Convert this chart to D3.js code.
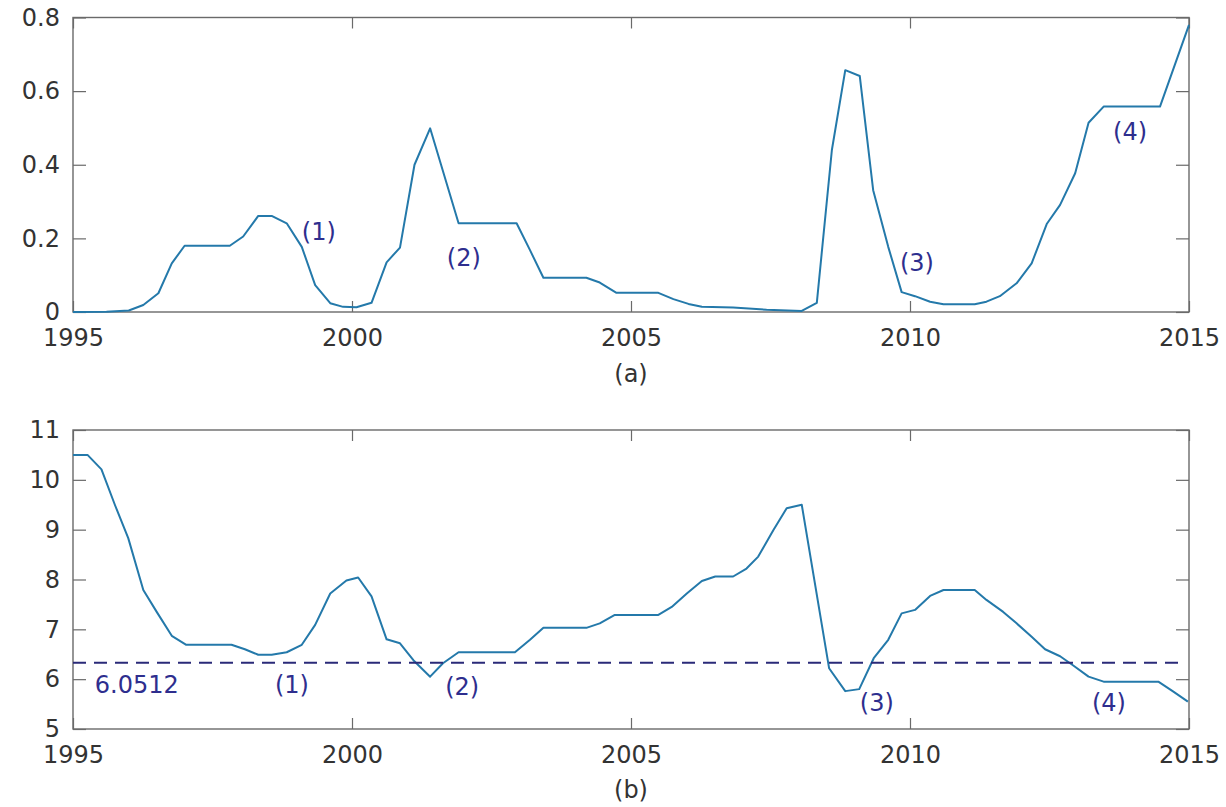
<!DOCTYPE html>
<html>
<head>
<meta charset="utf-8">
<script src="https://cdn.jsdelivr.net/npm/d3@7"></script>
<style>
  body { margin: 0; background: #fff; }
  svg { display: block; }
  text { font-family: "DejaVu Sans", sans-serif; }
</style>
</head>
<body>
<svg id="chart" width="1226" height="807"></svg>
<script>
// ---------- data ----------
const xTicks = [1995, 2000, 2005, 2010, 2015];
const yTicksA = [0, 0.2, 0.4, 0.6, 0.8];
const yTickLabelsA = ["0", "0.2", "0.4", "0.6", "0.8"];
const yTicksB = [5, 6, 7, 8, 9, 10, 11];

const yearsA = [1995.0, 1995.6, 1996.0, 1996.26, 1996.53, 1996.77, 1997.0, 1997.81, 1998.05, 1998.32,
  1998.56, 1998.83, 1999.10, 1999.34, 1999.61, 1999.84, 2000.08, 2000.35, 2000.62, 2000.86,
  2001.12, 2001.40, 2001.91, 2002.95, 2003.19, 2003.43, 2004.20, 2004.44, 2004.74, 2005.49,
  2005.76, 2006.03, 2006.27, 2006.83, 2007.43, 2008.06, 2008.33, 2008.60, 2008.84, 2009.10,
  2009.34, 2009.61, 2009.85, 2010.09, 2010.36, 2010.60, 2011.16, 2011.37, 2011.61, 2011.91,
  2012.18, 2012.45, 2012.69, 2012.96, 2013.20, 2013.47, 2014.48, 2015.0];
const valuesA = [0, 0.001, 0.004, 0.019, 0.051, 0.132, 0.180, 0.180, 0.205, 0.261,
  0.261, 0.241, 0.177, 0.073, 0.024, 0.014, 0.013, 0.025, 0.135, 0.175,
  0.400, 0.499, 0.241, 0.241, 0.168, 0.093, 0.093, 0.080, 0.052, 0.052,
  0.035, 0.022, 0.014, 0.012, 0.006, 0.003, 0.025, 0.440, 0.657, 0.641,
  0.331, 0.177, 0.054, 0.043, 0.028, 0.021, 0.021, 0.028, 0.043, 0.078,
  0.132, 0.239, 0.291, 0.377, 0.514, 0.558, 0.558, 0.780];

const yearsB = [1995.0, 1995.26, 1995.51, 1995.75, 1995.99, 1996.26, 1996.50, 1996.77, 1997.03, 1997.84,
  1998.08, 1998.32, 1998.56, 1998.83, 1999.10, 1999.34, 1999.61, 1999.90, 2000.11, 2000.35,
  2000.62, 2000.86, 2001.10, 2001.40, 2001.63, 2001.91, 2002.92, 2003.19, 2003.43, 2004.20,
  2004.44, 2004.71, 2005.49, 2005.73, 2006.00, 2006.27, 2006.51, 2006.83, 2007.07, 2007.28,
  2007.55, 2007.79, 2008.06, 2008.55, 2008.84, 2009.09, 2009.35, 2009.61, 2009.85, 2010.09,
  2010.36, 2010.60, 2011.16, 2011.37, 2011.67, 2011.91, 2012.18, 2012.42, 2012.69, 2012.92,
  2013.20, 2013.47, 2014.45, 2014.72, 2014.98];
const valuesB = [10.50, 10.50, 10.21, 9.50, 8.83, 7.79, 7.35, 6.87, 6.69, 6.69,
  6.60, 6.49, 6.49, 6.54, 6.69, 7.09, 7.72, 7.98, 8.04, 7.66,
  6.80, 6.72, 6.38, 6.05, 6.32, 6.54, 6.54, 6.79, 7.03, 7.03,
  7.12, 7.29, 7.29, 7.45, 7.72, 7.97, 8.06, 8.06, 8.22, 8.46,
  8.99, 9.43, 9.50, 6.22, 5.76, 5.80, 6.42, 6.79, 7.32, 7.39,
  7.67, 7.79, 7.79, 7.59, 7.35, 7.12, 6.85, 6.60, 6.46, 6.28,
  6.05, 5.95, 5.95, 5.75, 5.55];

const refLevelB = 6.33;
const refSpanB = [1995, 2014.84];
const refLabelB = "6.0512";

const labelsA = ["(1)", "(2)", "(3)", "(4)"];
const labelYearsA = [1999.10, 2001.70, 2009.82, 2013.64];
const labelValsA = [0.196, 0.125, 0.111, 0.467];
const labelsB = ["(1)", "(2)", "(3)", "(4)"];
const labelYearsB = [1998.62, 2001.67, 2009.10, 2013.26];
const labelValsB = [5.72, 5.68, 5.36, 5.36];
const captions = ["(a)", "(b)"];

// ---------- layout ----------
const svg = d3.select("#chart");
const left = 73, right = 1189;
const lineColor = "#2479aa";
const annColor = "#2e2e8e";
const axisColor = "#6a6a6a";

const x = d3.scaleLinear().domain([1995, 2015]).range([left, right]);

function panel(yDomain, yTop, yBottom, ticks, tickFmt, years, vals) {
  const y = d3.scaleLinear().domain(yDomain).range([yBottom, yTop]);
  const g = svg.append("g");

  // box
  g.append("rect").attr("x", left).attr("y", yTop)
    .attr("width", right - left).attr("height", yBottom - yTop)
    .attr("fill", "none").attr("stroke", axisColor).attr("stroke-width", 1.4);

  const styleAxis = sel => {
    sel.select(".domain").remove();
    sel.selectAll(".tick line").attr("stroke", axisColor).attr("stroke-width", 1.2);
    sel.selectAll(".tick text").attr("fill", "#333").attr("font-size", 24)
      .attr("font-family", "DejaVu Sans, sans-serif");
  };

  g.append("g").attr("transform", `translate(0,${yBottom})`)
    .call(d3.axisBottom(x).tickValues(xTicks).tickFormat(d3.format("d"))
      .tickSizeInner(-11).tickSizeOuter(0).tickPadding(17))
    .call(styleAxis);
  g.append("g").attr("transform", `translate(0,${yTop})`)
    .call(d3.axisTop(x).tickValues(xTicks).tickFormat("")
      .tickSizeInner(-11).tickSizeOuter(0))
    .call(styleAxis);
  g.append("g").attr("transform", `translate(${left},0)`)
    .call(d3.axisLeft(y).tickValues(ticks).tickFormat(tickFmt)
      .tickSizeInner(-13).tickSizeOuter(0).tickPadding(13))
    .call(styleAxis);
  g.append("g").attr("transform", `translate(${right},0)`)
    .call(d3.axisRight(y).tickValues(ticks).tickFormat("")
      .tickSizeInner(-13).tickSizeOuter(0))
    .call(styleAxis);

  const data = years.map((t, i) => [t, vals[i]]);
  const line = d3.line().x(d => x(d[0])).y(d => y(d[1]));
  g.append("path").datum(data).attr("d", line)
    .attr("fill", "none").attr("stroke", lineColor).attr("stroke-width", 2)
    .attr("stroke-linejoin", "round");
  return { g, y };
}

// Panel (a)
const pa = panel([0, 0.8], 17.5, 312, yTicksA, (d, i) => yTickLabelsA[i], yearsA, valuesA);
labelsA.forEach((t, i) => {
  pa.g.append("text").attr("x", x(labelYearsA[i])).attr("y", pa.y(labelValsA[i]))
    .attr("fill", annColor).attr("font-size", 24).text(t);
});
svg.append("text").attr("x", x(2005)).attr("y", 382).attr("text-anchor", "middle")
  .attr("fill", "#333").attr("font-size", 24).text(captions[0]);

// Panel (b)
const pb = panel([5, 11], 430, 729, yTicksB, d3.format("d"), yearsB, valuesB);
pb.g.append("line")
  .attr("x1", x(refSpanB[0])).attr("x2", x(refSpanB[1]))
  .attr("y1", pb.y(refLevelB)).attr("y2", pb.y(refLevelB))
  .attr("stroke", "#2a2a78").attr("stroke-width", 2)
  .attr("stroke-dasharray", "13,8");
pb.g.append("text").attr("x", x(1995.39)).attr("y", pb.y(5.72))
  .attr("fill", annColor).attr("font-size", 24).text(refLabelB);
labelsB.forEach((t, i) => {
  pb.g.append("text").attr("x", x(labelYearsB[i])).attr("y", pb.y(labelValsB[i]))
    .attr("fill", annColor).attr("font-size", 24).text(t);
});
svg.append("text").attr("x", x(2005)).attr("y", 798).attr("text-anchor", "middle")
  .attr("fill", "#333").attr("font-size", 24).text(captions[1]);
</script>
</body>
</html>
